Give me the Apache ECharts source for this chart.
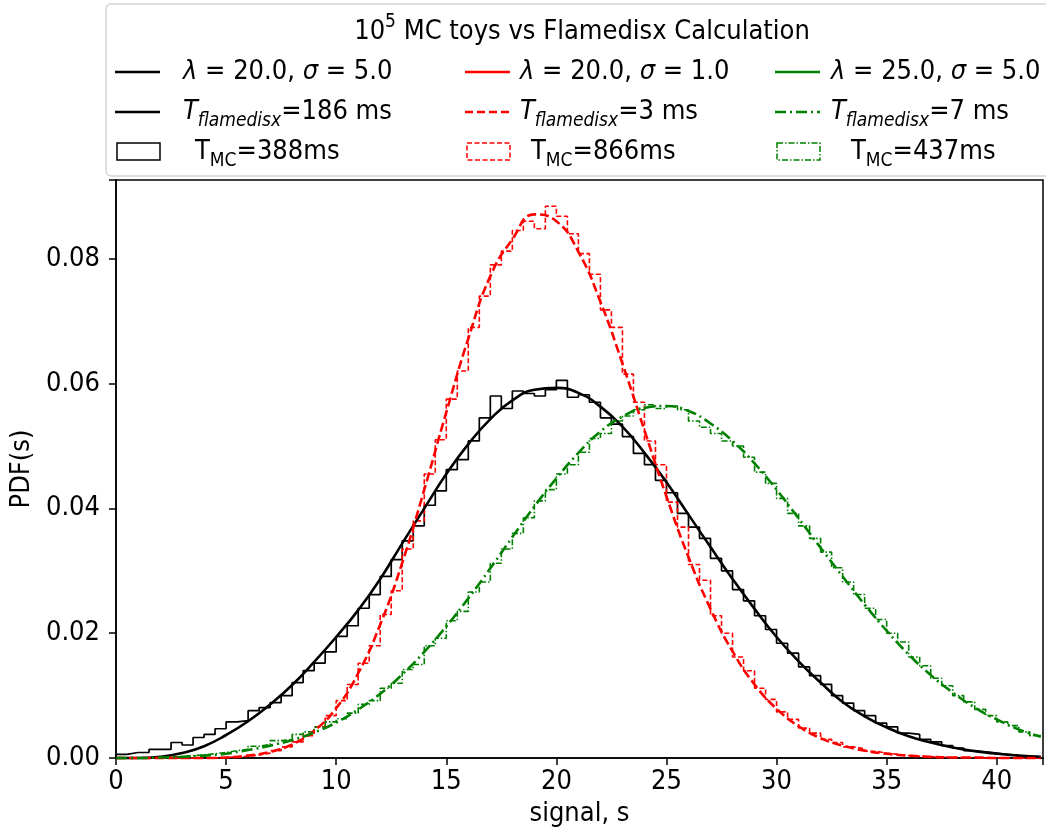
<!DOCTYPE html>
<html>
<head>
<meta charset="utf-8">
<script src="https://cdn.jsdelivr.net/npm/echarts@6/dist/echarts.min.js"></script>
<style>
  html, body { margin: 0; padding: 0; background: #fff; }
  #chart { width: 1046px; height: 832px; }
</style>
</head>
<body>
<div id="chart"></div>
<script>
// smooth curves, sampled at integer signal values
var curveX = [0, 1, 2, 3, 4, 5, 6, 7, 8, 9, 10, 11, 12, 13, 14, 15, 16, 17, 18, 19, 20,
  21, 22, 23, 24, 25, 26, 27, 28, 29, 30, 31, 32, 33, 34, 35, 36, 37, 38, 39, 40, 41, 42];
var blackCurve = [0, 0, 0.0002, 0.0008, 0.0019, 0.0037, 0.0059, 0.0086, 0.0117, 0.0154, 0.0194,
  0.0237, 0.0287, 0.0344, 0.0400, 0.0455, 0.0503, 0.0543, 0.0573, 0.0590, 0.0593,
  0.0585, 0.0563, 0.0531, 0.0489, 0.0442, 0.0390, 0.0338, 0.0287, 0.0239, 0.0194,
  0.0155, 0.0121, 0.0090, 0.0067, 0.0049, 0.0035, 0.0025, 0.0017, 0.0011, 0.0007, 0.0004, 0.0002];
var redCurve = [0, 0, 0, 0, 0, 0.0001, 0.0004, 0.0010, 0.0022, 0.0044, 0.0080,
  0.0136, 0.0214, 0.0313, 0.0430, 0.0554, 0.0672, 0.0772, 0.0831, 0.0871, 0.0860,
  0.0811, 0.0731, 0.0632, 0.0525, 0.0419, 0.0322, 0.0239, 0.0171, 0.0118, 0.0079,
  0.0051, 0.0032, 0.0020, 0.0012, 0.0007, 0.0004, 0.0002, 0.0001, 0.0001, 0, 0, 0];
var greenCurve = [0, 0, 0.0001, 0.0002, 0.0004, 0.0007, 0.0013, 0.0020, 0.0029, 0.0041, 0.0057,
  0.0078, 0.0103, 0.0134, 0.0170, 0.0211, 0.0256, 0.0304, 0.0354, 0.0403, 0.0448,
  0.0489, 0.0523, 0.0547, 0.0561, 0.0564, 0.0556, 0.0536, 0.0508, 0.0472, 0.0430,
  0.0384, 0.0337, 0.0291, 0.0246, 0.0204, 0.0166, 0.0133, 0.0105, 0.0081, 0.0062, 0.0046, 0.0034];

// MC toy histograms, bins of 0.5 starting at 0
var binStart = 0;
var binWidth = 0.5;
var blackHist = [0.0006, 0.0009, 0.0009, 0.0014, 0.0014, 0.0025, 0.0021, 0.0033, 0.0038, 0.0047,
  0.0058, 0.0060, 0.0076, 0.0081, 0.0089, 0.0100, 0.0121, 0.0140, 0.0152, 0.0170,
  0.0195, 0.0212, 0.0240, 0.0262, 0.0291, 0.0318, 0.0348, 0.0372, 0.0405, 0.0428,
  0.0462, 0.0478, 0.0508, 0.0545, 0.0580, 0.0560, 0.0588, 0.0584, 0.0580, 0.0590,
  0.0605, 0.0578, 0.0582, 0.0570, 0.0545, 0.0535, 0.0515, 0.0488, 0.0470, 0.0445,
  0.0425, 0.0392, 0.0370, 0.0352, 0.0320, 0.0300, 0.0270, 0.0252, 0.0228, 0.0206,
  0.0184, 0.0168, 0.0146, 0.0132, 0.0118, 0.0100, 0.0088, 0.0076, 0.0068, 0.0056,
  0.0050, 0.0040, 0.0038, 0.0030, 0.0026, 0.0020, 0.0016, 0.0012, 0.0010, 0.0008,
  0.0006, 0.0004, 0.0003, 0.0002];
var redHist = [0, 0, 0, 0, 0, 0, 0, 0, 0, 0.0001,
  0.0002, 0.0003, 0.0005, 0.0008, 0.0012, 0.0018, 0.0026, 0.0036, 0.0050, 0.0068,
  0.0092, 0.0118, 0.0152, 0.0180, 0.0230, 0.0268, 0.0335, 0.0380, 0.0455, 0.0510,
  0.0575, 0.0620, 0.0690, 0.0740, 0.0790, 0.0812, 0.0845, 0.0860, 0.0848, 0.0884,
  0.0868, 0.0840, 0.0808, 0.0775, 0.0718, 0.0690, 0.0615, 0.0570, 0.0508, 0.0470,
  0.0410, 0.0370, 0.0310, 0.0285, 0.0228, 0.0200, 0.0162, 0.0140, 0.0112, 0.0094,
  0.0074, 0.0062, 0.0048, 0.0040, 0.0030, 0.0025, 0.0018, 0.0015, 0.0011, 0.0008,
  0.0006, 0.0004, 0.0003, 0.0002, 0.0002, 0.0001, 0.0001, 0.0001, 0, 0,
  0, 0, 0, 0];
var greenHist = [0, 0, 0.0001, 0.0001, 0.0002, 0.0002, 0.0004, 0.0005, 0.0007, 0.0009,
  0.0012, 0.0014, 0.0019, 0.0022, 0.0028, 0.0030, 0.0038, 0.0042, 0.0050, 0.0058,
  0.0063, 0.0072, 0.0086, 0.0092, 0.0112, 0.0120, 0.0142, 0.0150, 0.0180, 0.0192,
  0.0220, 0.0235, 0.0266, 0.0282, 0.0312, 0.0335, 0.0360, 0.0385, 0.0412, 0.0430,
  0.0455, 0.0470, 0.0490, 0.0512, 0.0520, 0.0540, 0.0548, 0.0558, 0.0566, 0.0560,
  0.0564, 0.0558, 0.0540, 0.0530, 0.0520, 0.0508, 0.0500, 0.0482, 0.0458, 0.0440,
  0.0416, 0.0392, 0.0372, 0.0352, 0.0330, 0.0305, 0.0282, 0.0262, 0.0240, 0.0222,
  0.0200, 0.0186, 0.0162, 0.0148, 0.0128, 0.0116, 0.0100, 0.0090, 0.0078, 0.0068,
  0.0058, 0.0052, 0.0042, 0.0036];

var xTicks = [0, 5, 10, 15, 20, 25, 30, 35, 40];
var yTicks = [0, 0.02, 0.04, 0.06, 0.08];

var FONT = "'DejaVu Sans Condensed', 'Liberation Sans Narrow', 'DejaVu Sans'";
var FS = 27;

function curvePoints(ys) {
  return curveX.map(function (x, i) { return [x, ys[i]]; });
}

// outline of a step histogram (open on the right, the bins run past the frame)
function stepPoints(vals) {
  var pts = [[binStart, 0]];
  vals.forEach(function (v, i) {
    var l = binStart + i * binWidth;
    pts.push([l, v], [l + binWidth, v]);
  });
  return pts;
}

var myChart = echarts.init(document.getElementById("chart"), null, { renderer: "canvas" });

var legendLines = [
  { x: 115, y: 72, color: "#000", dash: "solid", kind: "line" },
  { x: 115, y: 112, color: "#000", dash: "solid", kind: "line" },
  { x: 115, y: 152, color: "#000", dash: "solid", kind: "rect" },
  { x: 465, y: 72, color: "#ff0000", dash: "solid", kind: "line" },
  { x: 465, y: 112, color: "#ff0000", dash: [8, 4], kind: "line" },
  { x: 465, y: 152, color: "#ff0000", dash: [5, 2.5], kind: "rect" },
  { x: 775, y: 72, color: "#008000", dash: "solid", kind: "line" },
  { x: 775, y: 112, color: "#008000", dash: [11, 4, 2, 4], kind: "line" },
  { x: 775, y: 152, color: "#008000", dash: [6, 2, 1.5, 2], kind: "rect" }
];

var richStyles = {
  n: { fontFamily: FONT, fontSize: FS, color: "#000", lineHeight: 34 },
  i: { fontFamily: FONT, fontSize: FS, fontStyle: "italic", color: "#000", lineHeight: 34 },
  sub: { fontFamily: FONT, fontSize: 19, fontStyle: "italic", color: "#000", lineHeight: 34, verticalAlign: "bottom", padding: [0, 0, -2, 0] },
  subn: { fontFamily: FONT, fontSize: 19, color: "#000", lineHeight: 34, verticalAlign: "bottom", padding: [0, 0, -2, 0] },
  sup: { fontFamily: FONT, fontSize: 19, color: "#000", lineHeight: 34, verticalAlign: "top", padding: [-2, 0, 0, 0] }
};

var legendTexts = [
  { x: 183, y: 72, t: "{i|λ}{n| = 20.0, }{i|σ}{n| = 5.0}" },
  { x: 183, y: 112, t: "{i|T}{sub|flamedisx}{n|=186 ms}" },
  { x: 195, y: 152, t: "{n|T}{subn|MC}{n|=388ms}" },
  { x: 520, y: 72, t: "{i|λ}{n| = 20.0, }{i|σ}{n| = 1.0}" },
  { x: 520, y: 112, t: "{i|T}{sub|flamedisx}{n|=3 ms}" },
  { x: 531, y: 152, t: "{n|T}{subn|MC}{n|=866ms}" },
  { x: 831, y: 72, t: "{i|λ}{n| = 25.0, }{i|σ}{n| = 5.0}" },
  { x: 831, y: 112, t: "{i|T}{sub|flamedisx}{n|=7 ms}" },
  { x: 851, y: 152, t: "{n|T}{subn|MC}{n|=437ms}" }
];

var graphics = [
  {
    type: "rect", z: 100,
    shape: { x: 106, y: 4, width: 960, height: 172, r: 5 },
    style: { fill: "#fff", stroke: "#d4d4d4", lineWidth: 1.5 }
  },
  {
    type: "text", z: 101, x: 582, y: 32,
    style: {
      text: "{n|10}{sup|5}{n| MC toys vs Flamedisx Calculation}",
      rich: richStyles, align: "center", verticalAlign: "middle"
    }
  }
];
legendLines.forEach(function (h) {
  if (h.kind === "line") {
    graphics.push({
      type: "line", z: 101,
      shape: { x1: h.x, y1: h.y, x2: h.x + 45, y2: h.y },
      style: { stroke: h.color, lineWidth: 2.5, lineDash: h.dash === "solid" ? null : h.dash }
    });
  } else {
    graphics.push({
      type: "rect", z: 101,
      shape: { x: h.x + 2, y: h.y - 9, width: 43, height: 17 },
      style: { fill: null, stroke: h.color, lineWidth: 1.5, lineDash: h.dash === "solid" ? null : h.dash }
    });
  }
});
legendTexts.forEach(function (t) {
  graphics.push({
    type: "text", z: 101, x: t.x, y: t.y,
    style: { text: t.t, rich: richStyles, align: "left", verticalAlign: "middle" }
  });
});

function isTick(list, v) {
  return list.some(function (t) { return Math.abs(t - v) < 1e-9; });
}

var option = {
  animation: false,
  backgroundColor: "#fff",
  grid: {
    left: 116, right: 0, top: 180, bottom: 73,
    show: true, borderColor: "#000", borderWidth: 1.5, backgroundColor: "transparent"
  },
  xAxis: {
    type: "value", min: 0, max: 42.1, interval: 5,
    name: "signal, s", nameLocation: "middle", nameGap: 31,
    nameTextStyle: { fontFamily: FONT, fontSize: FS, color: "#000" },
    splitLine: { show: false },
    axisLine: { lineStyle: { color: "#000", width: 1.5 } },
    axisTick: { length: 7, lineStyle: { color: "#000", width: 1.5 } },
    axisLabel: {
      fontFamily: FONT, fontSize: FS, color: "#000", margin: 10,
      formatter: function (v) { return isTick(xTicks, v) ? String(v) : ""; }
    }
  },
  yAxis: {
    type: "value", min: 0, max: 0.0926, interval: 0.02,
    name: "PDF(s)", nameLocation: "middle", nameGap: 70, nameRotate: 90,
    nameTextStyle: { fontFamily: FONT, fontSize: FS, color: "#000" },
    splitLine: { show: false },
    axisLine: { lineStyle: { color: "#000", width: 1.5 } },
    axisTick: { length: 7, lineStyle: { color: "#000", width: 1.5 } },
    axisLabel: {
      fontFamily: FONT, fontSize: FS, color: "#000", margin: 16,
      formatter: function (v) { return isTick(yTicks, v) ? v.toFixed(2) : ""; }
    }
  },
  graphic: graphics,
  series: [
    {
      name: "MC black", type: "line", data: stepPoints(blackHist), showSymbol: false,
      lineStyle: { color: "#000", width: 1.7 }, clip: true, z: 2
    },
    {
      name: "MC red", type: "line", data: stepPoints(redHist), showSymbol: false,
      lineStyle: { color: "#ff0000", width: 1.6, type: [5, 2.5] }, clip: true, z: 2
    },
    {
      name: "MC green", type: "line", data: stepPoints(greenHist), showSymbol: false,
      lineStyle: { color: "#008000", width: 1.6, type: [6, 2, 1.5, 2] }, clip: true, z: 2
    },
    {
      name: "flamedisx black", type: "line", data: curvePoints(blackCurve), showSymbol: false,
      smooth: 0.5,
      lineStyle: { color: "#000", width: 2.6 }, clip: true, z: 3
    },
    {
      name: "flamedisx red", type: "line", data: curvePoints(redCurve), showSymbol: false,
      smooth: 0.5,
      lineStyle: { color: "#ff0000", width: 2.6, type: [9, 4] }, clip: true, z: 3
    },
    {
      name: "flamedisx green", type: "line", data: curvePoints(greenCurve), showSymbol: false,
      smooth: 0.5,
      lineStyle: { color: "#008000", width: 2.6, type: [11, 4, 2, 4] }, clip: true, z: 3
    }
  ]
};
myChart.setOption(option);
</script>
</body>
</html>
